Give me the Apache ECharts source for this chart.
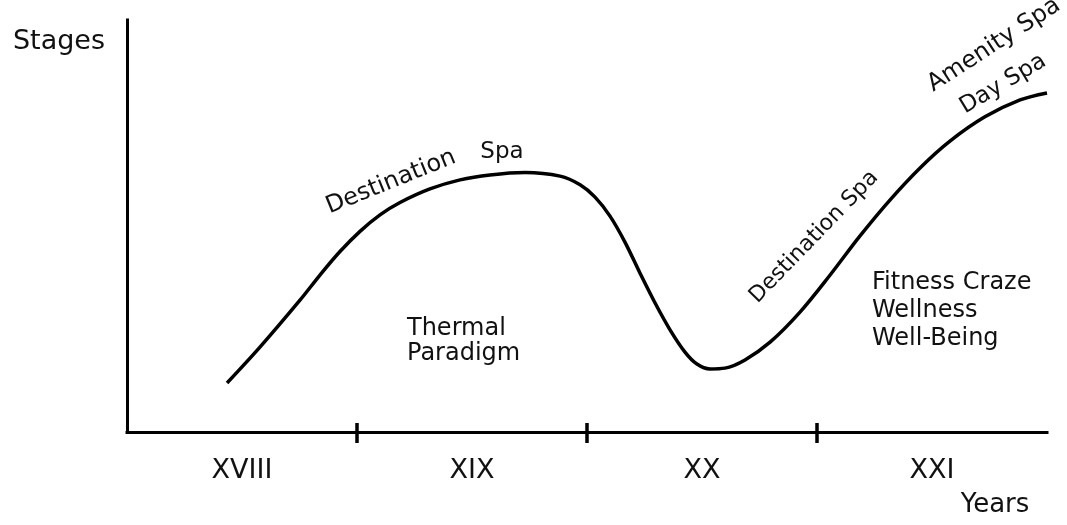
<!DOCTYPE html>
<html>
<head>
<meta charset="utf-8">
<script src="https://cdn.jsdelivr.net/npm/echarts@6/dist/echarts.min.js"></script>
<style>
  html, body { margin: 0; padding: 0; background: #fff; }
  #chart { width: 1067px; height: 525px; }
</style>
</head>
<body>
<div id="chart"></div>
<script>
// curve: x in years, y in "stage" units (0-100 = axis height)
const curveYears = [1743.5, 1757.8, 1775.2, 1783.9, 1792.6, 1801.3, 1810.0, 1818.7, 1831.7, 1844.8,
  1857.8, 1873.0, 1888.3, 1897.0, 1903.5, 1910.0, 1916.5, 1923.0, 1929.6, 1936.1, 1942.6, 1947.8,
  1953.5, 1960.0, 1968.7, 1979.6, 1992.6, 2005.7, 2018.7, 2031.7, 2044.8, 2057.8, 2073.0, 2088.3, 2100]
const curveStage = [11.9, 20.6, 32.0, 38.1, 43.8, 48.7, 52.7, 55.7, 59.0, 61.2,
  62.4, 63.0, 62.1, 60.0, 57.0, 52.4, 46.1, 38.6, 31.3, 24.8, 19.4, 16.5,
  15.3, 15.5, 17.5, 21.8, 29.1, 38.1, 47.6, 56.3, 64.1, 70.6, 76.5, 80.6, 82.3]
const centuries = ['XVIII', 'XIX', 'XX', 'XXI']
const boundaries = ['1700', '1800', '1900', '2000', '2100']

const font = '"DejaVu Sans", sans-serif'
const ink = '#111'

const myChart = echarts.init(document.getElementById('chart'), null, { renderer: 'canvas' })

const curveData = curveYears.map((y, i) => [y, curveStage[i]])

function txt(text, x, y, size, deg) {
  return {
    type: 'text',
    x: x,
    y: y,
    rotation: (deg || 0) * Math.PI / 180,
    style: {
      text: text,
      font: size + 'px ' + font,
      fill: ink,
      align: 'center',
      verticalAlign: 'middle'
    }
  }
}

const option = {
  backgroundColor: '#fff',
  animation: false,
  grid: {
    left: 127,
    right: 20,
    top: 20,
    bottom: 93,
    containLabel: false,
    outerBoundsMode: 'none'
  },
  xAxis: [
    {
      type: 'value',
      min: 1700,
      max: 2100,
      axisLine: { show: true, lineStyle: { color: '#000', width: 3, cap: 'square' } },
      axisTick: { show: false },
      axisLabel: { show: false },
      splitLine: { show: false }
    },
    {
      // century names, centred in each band
      type: 'category',
      data: centuries,
      boundaryGap: true,
      position: 'bottom',
      axisLine: { show: false },
      axisTick: { show: false },
      splitLine: { show: false },
      axisLabel: {
        margin: 25,
        color: ink,
        fontFamily: font,
        fontSize: 27
      }
    },
    {
      // tick marks at century boundaries, crossing the axis line
      type: 'category',
      data: boundaries,
      boundaryGap: false,
      position: 'bottom',
      offset: -9,
      axisLine: { show: false },
      axisLabel: { show: false },
      splitLine: { show: false },
      axisTick: {
        show: true,
        length: 20,
        interval: (i) => i > 0 && i < boundaries.length - 1,
        lineStyle: { color: '#000', width: 3.5 }
      }
    }
  ],
  yAxis: {
    type: 'value',
    min: 0,
    max: 100,
    axisLine: { show: true, lineStyle: { color: '#000', width: 3, cap: 'square' } },
    axisTick: { show: false },
    axisLabel: { show: false },
    splitLine: { show: false }
  },
  series: [
    {
      type: 'line',
      xAxisIndex: 0,
      data: curveData,
      smooth: 0.33,
      showSymbol: false,
      symbol: 'none',
      lineStyle: { color: '#000', width: 3.5 },
      silent: true
    }
  ],
  graphic: [
    txt('Stages', 59, 42, 27, 0),
    txt('Years', 995, 505, 26, 0),
    txt('Destination', 391, 182, 24, 22),
    txt('Spa', 502, 152, 23, 0),
    txt('Destination Spa', 814, 237, 22, 46),
    txt('Amenity Spa', 994, 45, 24, 33),
    txt('Day Spa', 1003, 84, 23, 31),
    {
      type: 'text',
      x: 407,
      y: 316,
      style: { text: 'Thermal\nParadigm', font: '24px ' + font, fill: ink, lineHeight: 25, align: 'left', verticalAlign: 'top' }
    },
    {
      type: 'text',
      x: 872,
      y: 269,
      style: { text: 'Fitness Craze\nWellness\nWell-Being', font: '24px ' + font, fill: ink, lineHeight: 28, align: 'left', verticalAlign: 'top' }
    }
  ]
}

myChart.setOption(option)
</script>
</body>
</html>
